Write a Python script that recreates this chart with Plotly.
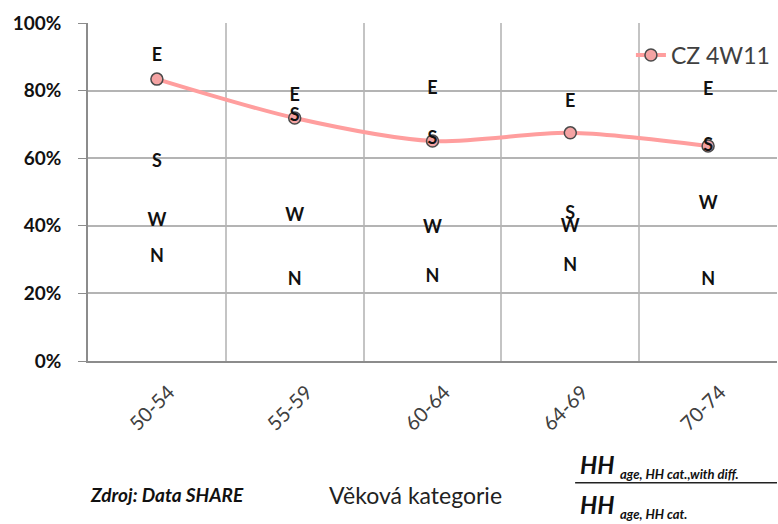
import plotly.graph_objects as go

categories = ["50-54", "55-59", "60-64", "64-69", "70-74"]
cz_4w11 = [83.4, 71.9, 65.1, 67.5, 63.6]
series_E = [90.2, 78.2, 80.3, 76.6, 79.9]
series_S = [58.6, 72.3, 65.4, 43.2, 63.6]
series_W = [41.3, 42.9, 39.1, 39.6, 46.2]
series_N = [30.7, 23.7, 24.8, 28.1, 23.7]
letters = {"E": series_E, "S": series_S, "W": series_W, "N": series_N}
y_ticks = [0, 20, 40, 60, 80, 100]
y_tick_text = [f"{v}%" for v in y_ticks]

fig = go.Figure()
fig.add_trace(go.Scatter(
    x=categories, y=cz_4w11, name="CZ 4W11", mode="lines+markers",
    line=dict(color="#FF9E9E", width=4, shape="spline", smoothing=0.8),
    marker=dict(symbol="circle", size=12, color="#F4A3A3",
                line=dict(color="#4A4A4A", width=1.5)),
))
for letter, vals in letters.items():
    fig.add_trace(go.Scatter(
        x=categories, y=vals, mode="text", text=[letter] * len(vals),
        textposition="middle center", showlegend=False, hoverinfo="skip",
        textfont=dict(family="Lato", size=18, color="#111111", weight=700),
    ))

fig.update_layout(
    width=778, height=524, paper_bgcolor="white", plot_bgcolor="white",
    margin=dict(l=88, r=1, t=23, b=163, autoexpand=False),
    font=dict(family="Lato", color="#333333"),
    legend=dict(x=0.997, y=0.905, xanchor="right", yanchor="middle",
                bgcolor="rgba(0,0,0,0)", font=dict(size=23, color="#404040"),
                itemwidth=30, tracegroupgap=0),
    showlegend=True,
)
fig.update_xaxes(
    type="category", range=[-0.5, 4.5], tickson="boundaries",
    showgrid=True, gridcolor="#C4C4C4", gridwidth=1.5,
    showline=True, linecolor="#8C8C8C", linewidth=1.5,
    ticks="", tickangle=-45, tickfont=dict(size=20, color="#404040"),
    ticklabelstandoff=10, ticklabelshift=12,
)
fig.update_yaxes(
    range=[0, 100], tickvals=y_ticks, ticktext=y_tick_text,
    showgrid=True, gridcolor="#B4B4B4", gridwidth=1.5, zeroline=False,
    showline=True, linecolor="#8C8C8C", linewidth=1.5,
    ticks="outside", ticklen=8, tickcolor="#8C8C8C",
    tickfont=dict(size=19, color="#111111", weight=700),
    ticklabelstandoff=13,
)

fig.add_annotation(text="<i><b>Zdroj: Data SHARE</b></i>", xref="paper", yref="paper",
                   x=0.0, y=-0.395, xanchor="left", yanchor="middle", showarrow=False,
                   font=dict(size=19, color="#111111"))
fig.add_annotation(text="Věková kategorie", xref="paper", yref="paper",
                   x=0.475, y=-0.395, xanchor="center", yanchor="middle", showarrow=False,
                   font=dict(size=23, color="#222222"))
fig.add_annotation(
    text="<i><b>HH</b> <sub><b><span style='font-size:13px'>age, HH cat.,with diff.</span></b></sub></i>",
    xref="paper", yref="paper", x=0.711, y=-0.31, xanchor="left", yanchor="middle",
    showarrow=False, font=dict(size=24, color="#111111"))
fig.add_annotation(
    text="<i><b>HH</b> <sub><b><span style='font-size:13px'>age, HH cat.</span></b></sub></i>",
    xref="paper", yref="paper", x=0.711, y=-0.43, xanchor="left", yanchor="middle",
    showarrow=False, font=dict(size=24, color="#111111"))
fig.add_shape(type="line", xref="paper", yref="paper", x0=0.707, x1=1.0,
              y0=-0.36, y1=-0.36, line=dict(color="#222222", width=1.5))

fig.write_html("out.html", config={"displayModeBar": False},
               post_script="document.body.style.margin='0';document.body.style.padding='0';")
